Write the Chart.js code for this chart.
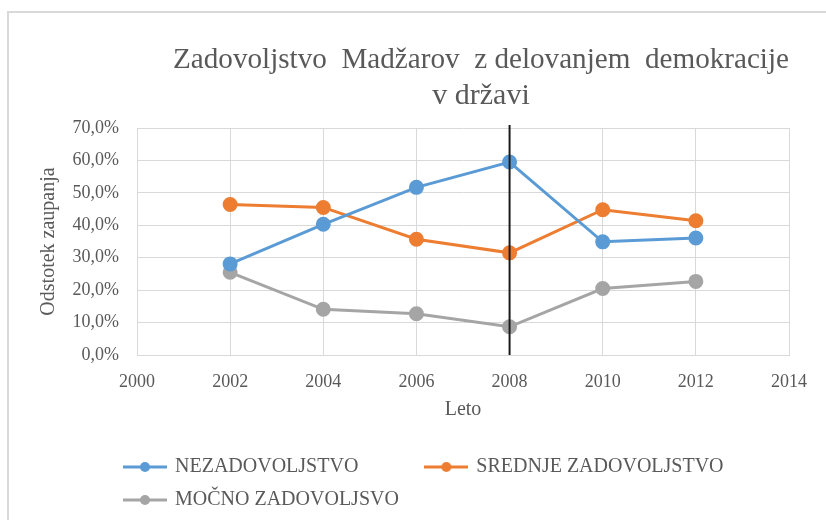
<!DOCTYPE html>
<html>
<head>
<meta charset="utf-8">
<script src="https://cdn.jsdelivr.net/npm/chart.js@4/dist/chart.umd.min.js"></script>
<style>
  body { margin: 0; background: #fff; }
  #wrap { position: relative; width: 826px; height: 520px; overflow: hidden; }
  #frame { position: absolute; left: 7px; top: 11px; width: 900px; height: 600px; border-top: 2px solid #d9d9d9; border-left: 2px solid #d9d9d9; }
  canvas { position: absolute; left: 0; top: 0; }
</style>
</head>
<body>
<div id="wrap">
  <div id="frame"></div>
  <canvas id="chart" width="826" height="520"></canvas>
</div>
<script>
const years = [2002, 2004, 2006, 2008, 2010, 2012];
const nezadovoljstvo = [28.1, 40.3, 51.7, 59.5, 34.9, 36.1];
const srednje = [46.4, 45.5, 35.7, 31.5, 44.8, 41.4];
const mocno = [25.5, 14.1, 12.7, 8.7, 20.5, 22.7];
const seriesNames = ["NEZADOVOLJSTVO", "SREDNJE ZADOVOLJSTVO", "MOČNO ZADOVOLJSVO"];
const colors = ["#5b9bd5", "#ed7d31", "#a5a5a5"];
const markerYear = 2008;

const textColor = "#595959";
const serif = "'Liberation Serif', 'Times New Roman', serif";

function points(values) {
  return years.map((y, i) => ({ x: y, y: values[i] }));
}

// little "line + dot" picture for the legend
function legendMarker(color) {
  const c = document.createElement("canvas");
  c.width = 44;
  c.height = 12;
  const g = c.getContext("2d");
  g.strokeStyle = color;
  g.lineWidth = 3;
  g.beginPath();
  g.moveTo(0, 6);
  g.lineTo(44, 6);
  g.stroke();
  g.fillStyle = color;
  g.beginPath();
  g.arc(22, 6, 5, 0, Math.PI * 2);
  g.fill();
  return c;
}

const markerLine = {
  id: "markerLine",
  afterDatasetsDraw(chart) {
    const x = chart.scales.x.getPixelForValue(markerYear);
    const ctx = chart.ctx;
    ctx.save();
    ctx.strokeStyle = "#1a1a1a";
    ctx.lineWidth = 2;
    ctx.beginPath();
    ctx.moveTo(x, chart.chartArea.top - 3);
    ctx.lineTo(x, chart.chartArea.bottom);
    ctx.stroke();
    ctx.restore();
  },
};

const nudge = {
  id: "nudge",
  afterLayout(chart) {
    chart.legend.left = 112;
    chart.titleBlock.left = 173;
    chart.titleBlock.right = 789;
  },
};

const datasets = [nezadovoljstvo, srednje, mocno].map((vals, i) => ({
  label: seriesNames[i],
  data: points(vals),
  borderColor: colors[i],
  backgroundColor: colors[i],
  borderWidth: 3,
  pointRadius: 6,
  pointHoverRadius: 6,
  tension: 0,
}));

new Chart(document.getElementById("chart"), {
  type: "line",
  data: { datasets: datasets },
  plugins: [markerLine, nudge],
  options: {
    responsive: false,
    animation: false,
    layout: { padding: { left: 26, right: 37 } },
    scales: {
      x: {
        type: "linear",
        min: 2000,
        max: 2014,
        afterFit: (s) => { s.height = 89; },
        ticks: {
          stepSize: 2,
          padding: 16,
          color: textColor,
          font: { family: serif, size: 18 },
          callback: (v) => String(v),
        },
        grid: { color: "#d9d9d9", drawTicks: false },
        border: { color: "#d9d9d9" },
        title: {
          display: true,
          text: "Leto",
          color: textColor,
          font: { family: serif, size: 20 },
          padding: 22,
        },
      },
      y: {
        min: 0,
        max: 70,
        afterFit: (s) => { s.width = 111; },
        ticks: {
          stepSize: 10,
          padding: 18,
          color: textColor,
          font: { family: serif, size: 18 },
          callback: (v) => v.toFixed(1).replace(".", ",") + "%",
        },
        grid: { color: "#d9d9d9", drawTicks: false },
        border: { color: "#d9d9d9" },
        title: {
          display: true,
          text: "Odstotek zaupanja",
          color: textColor,
          font: { family: serif, size: 20 },
          padding: 11,
        },
      },
    },
    plugins: {
      title: {
        display: true,
        text: ["Zadovoljstvo  Madžarov  z delovanjem  demokracije", "v državi"],
        color: textColor,
        font: { family: serif, size: 30, weight: "normal" },
        padding: { top: 42, bottom: 14 },
      },
      legend: {
        position: "bottom",
        align: "start",
        labels: {
          color: textColor,
          font: { family: serif, size: 20 },
          usePointStyle: true,
          pointStyleWidth: 40,
          padding: 13,
          generateLabels(chart) {
            const items = Chart.defaults.plugins.legend.labels.generateLabels(chart);
            items.forEach((item, i) => {
              item.pointStyle = legendMarker(colors[i]);
              if (i === 0) item.text = item.text + " ".repeat(11);
            });
            return items;
          },
        },
      },
      tooltip: { enabled: false },
    },
  },
});
</script>
</body>
</html>
